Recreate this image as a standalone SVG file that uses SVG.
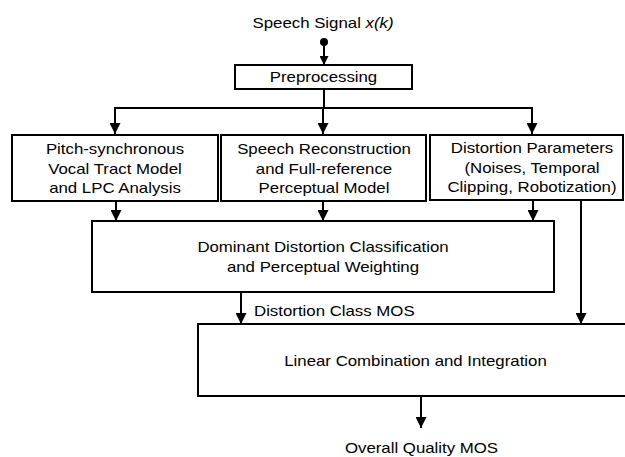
<svg xmlns="http://www.w3.org/2000/svg" width="625" height="457" viewBox="0 0 625 457">
<style>
text{font-family:"Liberation Sans",Arial,sans-serif;font-size:14.5px;fill:#000}
.c{text-anchor:middle}
.box{fill:#fff;stroke:#000;stroke-width:2}
.ln{fill:none;stroke:#000;stroke-width:2}
</style>
<defs>
<marker id="ah" markerUnits="userSpaceOnUse" markerWidth="11" markerHeight="11" refX="11" refY="5.5" orient="auto">
<path d="M0,0 L11,5.5 L0,11 z" fill="#000"/>
</marker>
<marker id="ahs" markerUnits="userSpaceOnUse" markerWidth="9" markerHeight="9" refX="9" refY="4.5" orient="auto">
<path d="M0,0 L9,4.5 L0,9 z" fill="#000"/>
</marker>
</defs>
<rect width="625" height="457" fill="#fff"/>
<g id="input">
<text class="c" transform="translate(323,28) scale(1.16,1)">Speech Signal <tspan font-style="italic">x(k)</tspan></text>
<circle cx="324" cy="42" r="4" fill="#000"/>
</g>
<g id="connectors">
<line class="ln" x1="324" y1="42" x2="324" y2="65" marker-end="url(#ahs)"/>
<line class="ln" x1="324" y1="89" x2="324" y2="108"/>
<polyline class="ln" points="115,134 115,108 532,108 532,134"/>
<line class="ln" x1="323" y1="108" x2="323" y2="134" marker-end="url(#ah)"/>
<line class="ln" x1="115" y1="108" x2="115" y2="134" marker-end="url(#ah)"/>
<line class="ln" x1="532" y1="108" x2="532" y2="134" marker-end="url(#ah)"/>
<line class="ln" x1="116" y1="201" x2="116" y2="221" marker-end="url(#ah)"/>
<line class="ln" x1="323" y1="201" x2="323" y2="221" marker-end="url(#ah)"/>
<line class="ln" x1="533" y1="200" x2="533" y2="221" marker-end="url(#ah)"/>
<line class="ln" x1="581" y1="200" x2="581" y2="324" marker-end="url(#ah)"/>
<line class="ln" x1="241" y1="292" x2="241" y2="324" marker-end="url(#ah)"/>
<line class="ln" x1="421" y1="396" x2="421" y2="428" marker-end="url(#ah)"/>
</g>
<g id="preprocessing">
<rect class="box" x="235" y="65" width="177" height="24"/>
<text class="c" transform="translate(323.5,82) scale(1.16,1)">Preprocessing</text>
</g>
<g id="pitch">
<rect class="box" x="12" y="135" width="206" height="66"/>
<text class="c" transform="translate(115,154) scale(1.16,1)">Pitch-synchronous</text>
<text class="c" transform="translate(115,173.5) scale(1.16,1)">Vocal Tract Model</text>
<text class="c" transform="translate(115,193) scale(1.16,1)">and LPC Analysis</text>
</g>
<g id="reconstruction">
<rect class="box" x="221" y="135" width="205" height="66"/>
<text class="c" transform="translate(324,154) scale(1.16,1)">Speech Reconstruction</text>
<text class="c" transform="translate(324,173.5) scale(1.16,1)">and Full-reference</text>
<text class="c" transform="translate(324,193) scale(1.16,1)">Perceptual Model</text>
</g>
<g id="distortion">
<rect class="box" x="430" y="135" width="193" height="65"/>
<text class="c" transform="translate(532,153) scale(1.16,1)">Distortion Parameters</text>
<text class="c" transform="translate(532,172.5) scale(1.16,1)">(Noises, Temporal</text>
<text class="c" transform="translate(532,192) scale(1.16,1)">Clipping, Robotization)</text>
</g>
<g id="dominant">
<rect class="box" x="92" y="221" width="462" height="71"/>
<text class="c" transform="translate(323,252) scale(1.16,1)">Dominant Distortion Classification</text>
<text class="c" transform="translate(323,272) scale(1.16,1)">and Perceptual Weighting</text>
</g>
<g id="class-mos">
<text transform="translate(254,315.5) scale(1.16,1)">Distortion Class MOS</text>
</g>
<g id="linear">
<rect class="box" x="198" y="324" width="430" height="72"/>
<text class="c" transform="translate(415.5,365.5) scale(1.16,1)">Linear Combination and Integration</text>
</g>
<g id="output">
<text class="c" transform="translate(421.5,452.5) scale(1.16,1)">Overall Quality MOS</text>
</g>
</svg>
